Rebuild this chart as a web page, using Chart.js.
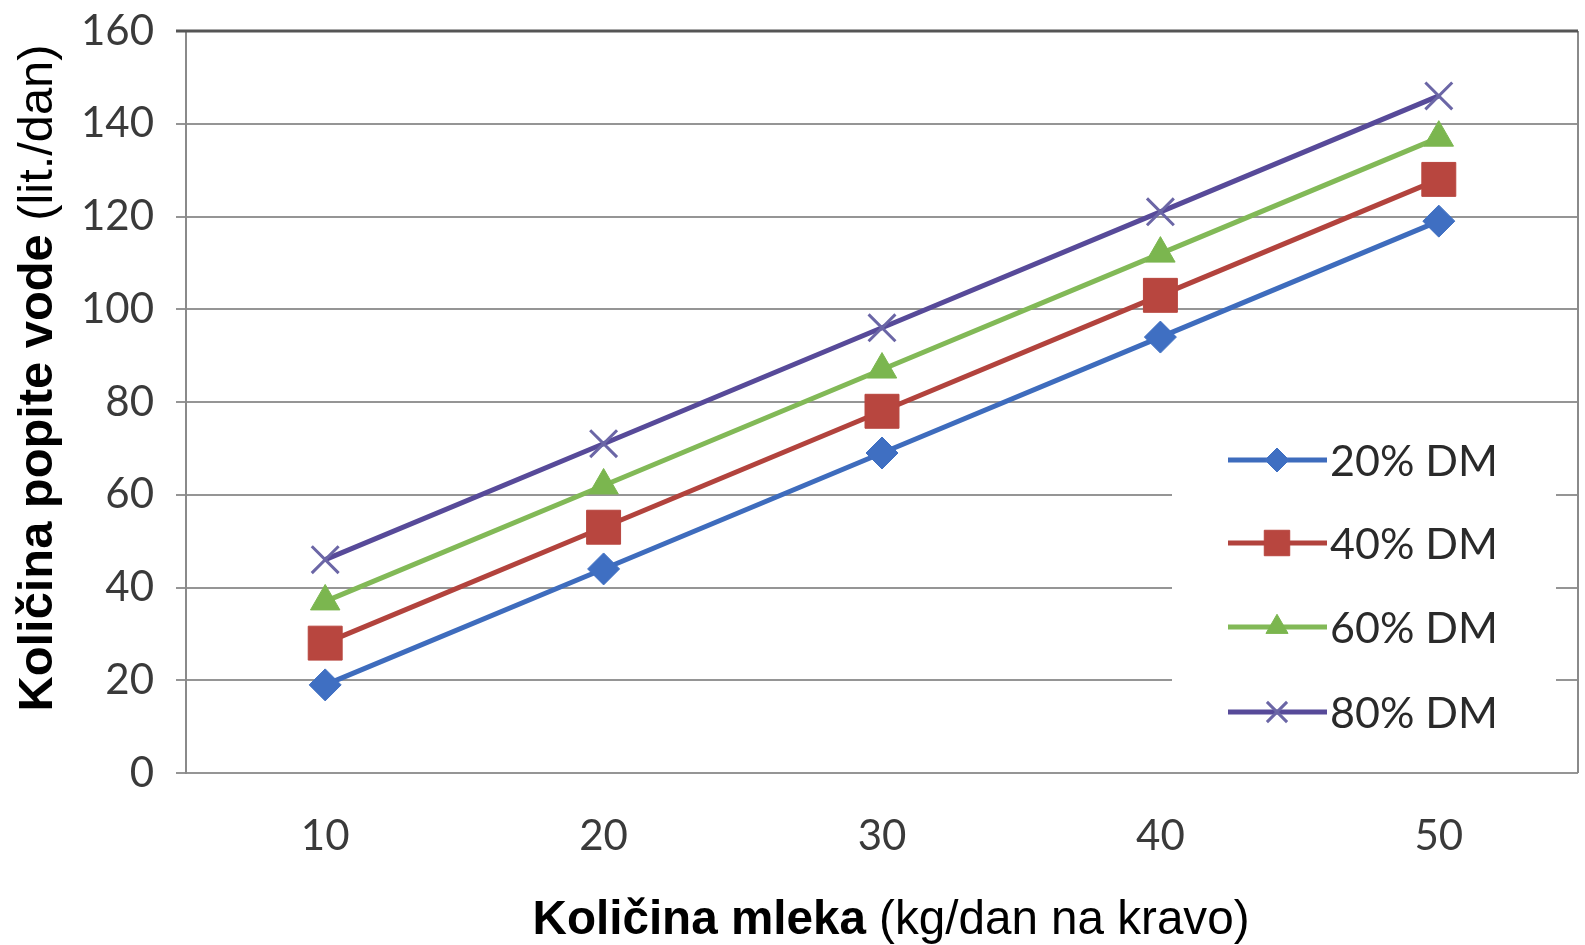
<!DOCTYPE html>
<html lang="sl">
<head>
<meta charset="UTF-8">
<title>Količina popite vode</title>
<script src="https://cdn.jsdelivr.net/npm/chart.js"></script>
<style>
    html, body { margin: 0; padding: 0; background: #fff; overflow: hidden; }
    canvas { display: block; }
</style>
</head>
<body>
<canvas id="waterChart" width="1585" height="945"></canvas>
<script>
// data
const milk = ['10', '20', '30', '40', '50'];
const dm20 = [19, 44, 69, 94, 119];
const dm40 = [28, 53, 78, 103, 128];
const dm60 = [37, 62, 87, 112, 137];
const dm80 = [46, 71, 96, 121, 146];
const seriesNames = ['20% DM', '40% DM', '60% DM', '80% DM'];
const yTicks = [0, 20, 40, 60, 80, 100, 120, 140, 160];

const tickFont = { family: 'Lato', size: 42 };

function series(label, data, color, markColor, style, radius) {
    return {
        label: label,
        data: data,
        borderColor: color,
        backgroundColor: markColor,
        pointBorderColor: markColor,
        pointBackgroundColor: markColor,
        pointStyle: style,
        pointRadius: radius,
        pointBorderWidth: style === 'crossRot' ? 3 : 1,
        borderWidth: 5,
        tension: 0,
        fill: false
    };
}

// draws the bold + normal axis titles, squeezed to the width seen in the picture
function mixedTitle(ctx, bold, normal, size, target) {
    ctx.font = 'bold ' + size + 'px "Liberation Sans"';
    const wb = ctx.measureText(bold).width;
    ctx.font = size + 'px "Liberation Sans"';
    const wn = ctx.measureText(normal).width;
    const total = wb + wn;
    const sx = target / total;
    ctx.scale(sx, 1);
    ctx.fillStyle = '#000';
    ctx.textBaseline = 'middle';
    ctx.textAlign = 'left';
    ctx.font = 'bold ' + size + 'px "Liberation Sans"';
    ctx.fillText(bold, -total / 2, 0);
    ctx.font = size + 'px "Liberation Sans"';
    ctx.fillText(normal, -total / 2 + wb, 0);
}

const frame = {
    id: 'frame',
    beforeDatasetsDraw(chart) {
        const ctx = chart.ctx;
        const a = chart.chartArea;
        ctx.save();
        // white legend box hides part of the grid
        ctx.fillStyle = '#fff';
        ctx.fillRect(1172, 425, 384, 322);
        ctx.strokeStyle = '#8a8a8a';
        ctx.lineWidth = 2;
        ctx.beginPath();
        ctx.moveTo(a.right, a.top);
        ctx.lineTo(a.right, a.bottom);
        ctx.stroke();
        ctx.strokeStyle = '#555';
        ctx.lineWidth = 3;
        ctx.beginPath();
        ctx.moveTo(a.left - 10, a.top);
        ctx.lineTo(a.right, a.top);
        ctx.stroke();
        ctx.restore();
    },
    afterDraw(chart) {
        const ctx = chart.ctx;
        // legend
        ctx.save();
        const rows = [460, 543, 627, 712];
        chart.data.datasets.forEach((ds, i) => {
            const y = rows[i];
            ctx.strokeStyle = ds.borderColor;
            ctx.lineWidth = 5;
            ctx.beginPath();
            ctx.moveTo(1228, y);
            ctx.lineTo(1327, y);
            ctx.stroke();
            ctx.fillStyle = ds.pointBackgroundColor;
            ctx.strokeStyle = ds.pointBorderColor;
            ctx.lineWidth = ds.pointBorderWidth;
            Chart.helpers.drawPoint(ctx, { pointStyle: ds.pointStyle, radius: ds.pointRadius * 0.75, borderWidth: ds.pointBorderWidth }, 1277, y);
            ctx.fillStyle = '#2a2a2a';
            ctx.font = '43px Lato';
            ctx.textBaseline = 'middle';
            ctx.textAlign = 'left';
            ctx.fillText(ds.label, 1330, y + 2);
        });
        ctx.restore();

        ctx.save();
        ctx.translate(891, 921);
        mixedTitle(ctx, 'Količina mleka', ' (kg/dan na kravo)', 48, 717);
        ctx.restore();

        ctx.save();
        ctx.translate(39, 378);
        ctx.rotate(-Math.PI / 2);
        mixedTitle(ctx, 'Količina popite vode', ' (lit./dan)', 48, 667);
        ctx.restore();
    }
};

const ctx = document.getElementById('waterChart').getContext('2d');
new Chart(ctx, {
    type: 'line',
    data: {
        labels: milk,
        datasets: [
            series(seriesNames[0], dm20, '#3e6cbd', '#3f6fc2', 'rectRot', 16),
            series(seriesNames[1], dm40, '#b2433d', '#b8463f', 'rect', 24),
            series(seriesNames[2], dm60, '#82b957', '#7bb64f', 'triangle', 17),
            series(seriesNames[3], dm80, '#574a99', '#6b66a6', 'crossRot', 19)
        ]
    },
    options: {
        responsive: false,
        animation: false,
        layout: { autoPadding: false, padding: { top: 31, right: 7, left: 0, bottom: 0 } },
        plugins: {
            legend: { display: false },
            title: { display: false },
            tooltip: { enabled: false }
        },
        scales: {
            x: {
                offset: true,
                grid: { display: false },
                border: { display: false },
                ticks: { font: tickFont, color: '#3a3a3a', padding: 30 },
                afterFit(scale) {
                    scale.height = 172;
                    scale.paddingLeft = 0;
                    scale.paddingRight = 0;
                }
            },
            y: {
                min: 0,
                max: 160,
                afterBuildTicks(scale) { scale.ticks = yTicks.map(v => ({ value: v })); },
                grid: { color: '#959595', lineWidth: 2, tickLength: 10 },
                border: { display: true, color: '#8a8a8a', width: 2 },
                ticks: { font: tickFont, color: '#3a3a3a', padding: 22 },
                afterFit(scale) {
                    scale.width = 186;
                    scale.paddingTop = 0;
                    scale.paddingBottom = 0;
                }
            }
        }
    },
    plugins: [frame]
});
</script>
</body>
</html>
